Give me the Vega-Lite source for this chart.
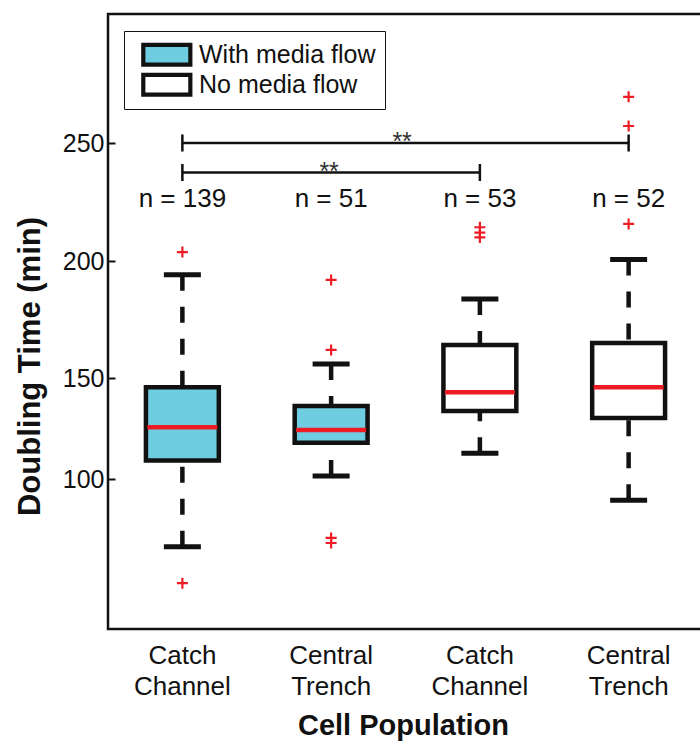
{
  "$schema": "https://vega.github.io/schema/vega-lite/v6.json",
  "autosize": {"type": "none"},
  "padding": {"left": 108, "top": 14, "right": -3, "bottom": 126},
  "width": 595,
  "height": 615,
  "config": {
    "font": "Liberation Sans",
    "view": {"stroke": "#111", "strokeWidth": 2.5},
    "axis": {"grid": false, "domain": false, "labelColor": "#111", "titleColor": "#111"}
  },
  "datasets": {
    "boxes": [
      {"group": "Catch Channel|with", "flow": "With media flow", "lower": 66.5, "q1": 109.1, "median": 125.6, "q3": 145.4, "upper": 194.1, "n": "n = 139"},
      {"group": "Central Trench|with", "flow": "With media flow", "lower": 101.5, "q1": 118.0, "median": 124.3, "q3": 136.1, "upper": 156.0, "n": "n = 51"},
      {"group": "Catch Channel|no", "flow": "No media flow", "lower": 112.7, "q1": 133.7, "median": 142.9, "q3": 164.1, "upper": 183.8, "n": "n = 53"},
      {"group": "Central Trench|no", "flow": "No media flow", "lower": 89.5, "q1": 130.2, "median": 145.4, "q3": 165.0, "upper": 200.6, "n": "n = 52"}
    ],
    "outliers": [
      {"group": "Catch Channel|with", "value": 203.8},
      {"group": "Catch Channel|with", "value": 48.4},
      {"group": "Central Trench|with", "value": 191.9},
      {"group": "Central Trench|with", "value": 162.0},
      {"group": "Central Trench|with", "value": 70.8},
      {"group": "Central Trench|with", "value": 68.3},
      {"group": "Catch Channel|no", "value": 214.3},
      {"group": "Catch Channel|no", "value": 212.0},
      {"group": "Catch Channel|no", "value": 210.0},
      {"group": "Central Trench|no", "value": 269.6},
      {"group": "Central Trench|no", "value": 257.2},
      {"group": "Central Trench|no", "value": 215.7}
    ],
    "brackets": [
      {"from": "Catch Channel|with", "to": "Central Trench|no", "level": 250, "label": "**"},
      {"from": "Catch Channel|with", "to": "Catch Channel|no", "level": 237.5, "label": "**"}
    ],
    "bracketEnds": [
      {"group": "Catch Channel|with", "level": 250},
      {"group": "Central Trench|no", "level": 250},
      {"group": "Catch Channel|with", "level": 237.5},
      {"group": "Catch Channel|no", "level": 237.5}
    ]
  },
  "encoding": {
    "x": {
      "field": "group",
      "type": "nominal",
      "sort": ["Catch Channel|with", "Central Trench|with", "Catch Channel|no", "Central Trench|no"],
      "scale": {"paddingInner": 0.51, "paddingOuter": 0.255, "domain": ["Catch Channel|with", "Central Trench|with", "Catch Channel|no", "Central Trench|no"]},
      "axis": {
        "title": "Cell Population",
        "labelAngle": 0,
        "labelExpr": "split(split(datum.value, '|')[0], ' ')",
        "labelFontSize": 26,
        "labelLineHeight": 31,
        "labelPadding": 13,
        "ticks": false,
        "titleFontSize": 29,
        "titleFontWeight": "bold",
        "titleX": 295,
        "titleY": 105,
        "titleBaseline": "alphabetic",
        "titleAlign": "center"
      }
    }
  },
  "layer": [
    {
      "data": {"name": "boxes"},
      "mark": {"type": "rule", "strokeWidth": 4.5, "strokeDash": [16, 16], "color": "#111"},
      "encoding": {
        "y": {
          "field": "upper", "type": "quantitative",
          "scale": {"type": "linear", "domain": [25.7, 100, 150, 200, 250, 304.7], "range": [615, 465, 364, 247, 129, 0], "nice": false, "zero": false},
          "axis": {
            "title": "Doubling Time (min)",
            "values": [100, 150, 200, 250],
            "labelFontSize": 25,
            "tickSize": -7,
            "tickWidth": 2,
            "tickColor": "#111",
            "labelPadding": 11,
            "titleFontSize": 31,
            "titleFontWeight": "bold",
            "titleAngle": -90,
            "titleX": -78,
            "titleY": 352,
            "titleAlign": "center",
            "titleBaseline": "middle"
          }
        },
        "y2": {"field": "q3"}
      }
    },
    {
      "data": {"name": "boxes"},
      "mark": {"type": "rule", "strokeWidth": 4.5, "strokeDash": [16, 16], "color": "#111"},
      "encoding": {"y": {"field": "lower", "type": "quantitative"}, "y2": {"field": "q1"}}
    },
    {
      "data": {"name": "boxes"},
      "mark": {"type": "tick", "size": 37, "thickness": 5, "color": "#111", "opacity": 1},
      "encoding": {"y": {"field": "upper", "type": "quantitative"}}
    },
    {
      "data": {"name": "boxes"},
      "mark": {"type": "tick", "size": 37, "thickness": 5, "color": "#111", "opacity": 1},
      "encoding": {"y": {"field": "lower", "type": "quantitative"}}
    },
    {
      "data": {"name": "boxes"},
      "mark": {"type": "bar", "stroke": "#111", "strokeWidth": 4.5, "opacity": 1},
      "encoding": {
        "y": {"field": "q1", "type": "quantitative"},
        "y2": {"field": "q3"},
        "fill": {
          "field": "flow", "type": "nominal",
          "scale": {"domain": ["With media flow", "No media flow"], "range": ["#6ecde0", "#ffffff"]},
          "legend": {
            "title": null,
            "orient": "none",
            "legendX": 16,
            "legendY": 17,
            "padding": 9,
            "strokeColor": "#111",
            "labelFontSize": 25,
            "labelColor": "#111",
            "labelLimit": 400,
            "labelOffset": 37,
            "rowPadding": 0,
            "clipHeight": 29.5,
            "symbolType": "M-0.35,-0.83H3.57V0.83H-0.35Z",
            "symbolSize": 576,
            "symbolStrokeColor": "#111",
            "symbolStrokeWidth": 4.2,
            "symbolOpacity": 1
          }
        }
      }
    },
    {
      "data": {"name": "boxes"},
      "mark": {"type": "tick", "size": 70, "thickness": 4.5, "color": "#ed1c24", "opacity": 1},
      "encoding": {"y": {"field": "median", "type": "quantitative"}}
    },
    {
      "data": {"name": "outliers"},
      "mark": {"type": "point", "shape": "M-1,0H1M0,-1V1", "size": 121, "filled": false, "stroke": "#ee1c24", "strokeWidth": 2.2, "opacity": 1},
      "encoding": {"y": {"field": "value", "type": "quantitative"}}
    },
    {
      "data": {"name": "boxes"},
      "mark": {"type": "text", "fontSize": 26, "baseline": "alphabetic", "align": "center", "color": "#111"},
      "encoding": {"y": {"datum": 223, "type": "quantitative"}, "text": {"field": "n"}}
    },
    {
      "data": {"name": "brackets"},
      "mark": {"type": "rule", "strokeWidth": 2.5, "color": "#111"},
      "encoding": {"x": {"field": "from", "type": "nominal"}, "x2": {"field": "to"}, "y": {"field": "level", "type": "quantitative"}}
    },
    {
      "data": {"name": "bracketEnds"},
      "mark": {"type": "tick", "orient": "vertical", "size": 17, "thickness": 2.5, "color": "#111", "opacity": 1},
      "encoding": {"y": {"field": "level", "type": "quantitative"}}
    },
    {
      "data": {"name": "brackets"},
      "transform": [{"filter": "datum.level == 250"}],
      "mark": {"type": "text", "fontSize": 25, "baseline": "alphabetic", "align": "center", "color": "#333", "dx": 71, "dy": 7},
      "encoding": {"x": {"datum": "Central Trench|with"}, "y": {"field": "level", "type": "quantitative"}, "text": {"field": "label"}}
    },
    {
      "data": {"name": "brackets"},
      "transform": [{"filter": "datum.level != 250"}],
      "mark": {"type": "text", "fontSize": 25, "baseline": "alphabetic", "align": "center", "color": "#333", "dx": -2, "dy": 7},
      "encoding": {"x": {"datum": "Central Trench|with"}, "y": {"field": "level", "type": "quantitative"}, "text": {"field": "label"}}
    }
  ]
}
